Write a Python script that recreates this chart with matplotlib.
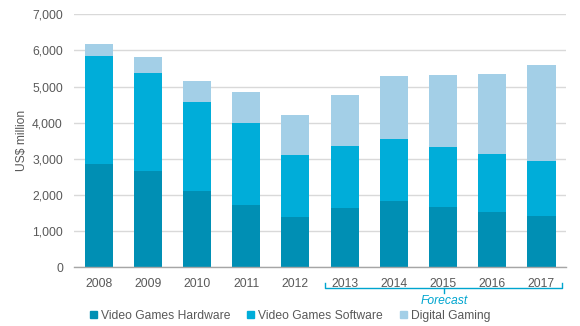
import matplotlib
matplotlib.use("Agg")
import matplotlib.pyplot as plt
from matplotlib.patches import Patch
from matplotlib.lines import Line2D
import matplotlib.transforms as mtrans

years = ["2008", "2009", "2010", "2011", "2012", "2013", "2014", "2015", "2016", "2017"]
hardware = [2860, 2665, 2110, 1725, 1390, 1640, 1835, 1670, 1530, 1420]
software = [2990, 2715, 2465, 2270, 1715, 1717, 1715, 1660, 1605, 1520]
digital = [330, 440, 580, 855, 1110, 1413, 1745, 1990, 2215, 2660]
yticks = [0, 1000, 2000, 3000, 4000, 5000, 6000, 7000]

c_hw = "#008FB4"
c_sw = "#00ADD9"
c_dg = "#A3CFE7"
gray = "#595959"
fs = 8.7

plt.rcParams['font.family'] = ['Liberation Sans', 'DejaVu Sans']

fig = plt.figure(figsize=(5.8, 3.26), dpi=100)
ax = fig.add_axes([0.1276, 0.18, 0.976 - 0.1276, 0.956 - 0.18])

x = list(range(len(years)))
w = 0.57
bottom2 = [h + s for h, s in zip(hardware, software)]
ax.bar(x, hardware, w, color=c_hw, zorder=3)
ax.bar(x, software, w, bottom=hardware, color=c_sw, zorder=3)
ax.bar(x, digital, w, bottom=bottom2, color=c_dg, zorder=3)

ax.set_xlim(-0.5, 9.5)
ax.set_ylim(0, 7000)
ax.set_yticks(yticks)
ax.set_yticklabels([f"{v:,}" for v in yticks])
ax.set_xticks(x)
ax.set_xticklabels(years)
ax.tick_params(axis='both', length=0, labelsize=fs, colors=gray)
ax.tick_params(axis='x', pad=8)
ax.tick_params(axis='y', pad=8)
ax.yaxis.grid(True, color="#D9D9D9", linewidth=1, zorder=0)
ax.set_axisbelow(True)
for s in ["top", "right", "left"]:
    ax.spines[s].set_visible(False)
ax.spines["bottom"].set_color("#A6A6A6")
ax.spines["bottom"].set_linewidth(1)
ax.spines["bottom"].set_zorder(4)

ax.set_ylabel("US$ million", fontsize=fs, color=gray, labelpad=3)

# Forecast bracket
tr = mtrans.blended_transform_factory(ax.transData, ax.transAxes)
bc = "#00A5CF"
x0, x1, xm = 4.61, 9.42, 7.02
yb, yt, ym = -0.082, -0.062, -0.10
ax.add_line(Line2D([x0, x0, x1, x1], [yt, yb, yb, yt], transform=tr, color=bc, lw=1, clip_on=False))
ax.add_line(Line2D([xm, xm], [yb, ym], transform=tr, color=bc, lw=1, clip_on=False))
ax.text(xm, -0.132, "Forecast", transform=tr, ha="center", va="center", fontsize=fs,
        style="italic", color=bc)

handles = [Patch(color=c_hw), Patch(color=c_sw), Patch(color=c_dg)]
labels = ["Video Games Hardware", "Video Games Software", "Digital Gaming"]
leg = fig.legend(handles, labels, loc="center", bbox_to_anchor=(0.5, 1 - 315.7 / 326), ncol=3,
                 frameon=False, fontsize=fs, handlelength=0.6, handleheight=0.6,
                 handletextpad=0.3, columnspacing=1.4, labelcolor=gray)

fig.savefig("out.png", dpi=100)
